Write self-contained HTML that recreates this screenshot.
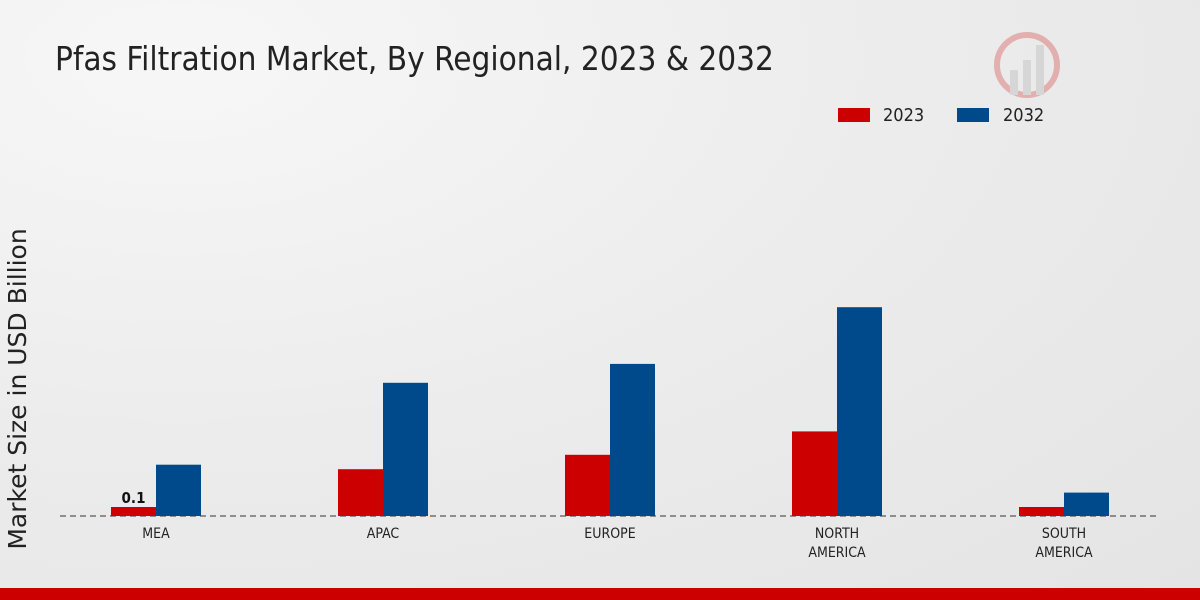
<!DOCTYPE html>
<html><head><meta charset="utf-8">
<style>
html,body{margin:0;padding:0;width:1200px;height:600px;overflow:hidden}
body{background:radial-gradient(ellipse at 15% 10%,#f7f7f7 0%,#ececec 50%,#e4e4e4 100%);font-family:"DejaVu Sans Condensed","DejaVu Sans","Liberation Sans",sans-serif}
</style></head>
<body>
<svg width="1200" height="600" xmlns="http://www.w3.org/2000/svg">
<text x="55" y="70" font-size="33" fill="#222" font-family="DejaVu Sans Condensed, DejaVu Sans, sans-serif">Pfas Filtration Market, By Regional, 2023 &amp; 2032</text>
<g opacity="0.25">
<circle cx="1027" cy="65" r="30" fill="none" stroke="#c00" stroke-width="6"/>
<rect x="1010" y="70" width="8" height="25" fill="#999"/><rect x="1023" y="60" width="8" height="35" fill="#999"/><rect x="1036" y="45" width="8" height="50" fill="#999"/>
</g>
<g>
<rect x="838" y="108" width="32" height="14" fill="#cc0000"/>
<text x="883" y="121" font-size="18" fill="#222">2023</text>
<rect x="957" y="108" width="32" height="14" fill="#004a8c"/>
<text x="1003" y="121" font-size="18" fill="#222">2032</text>
</g>
<text transform="translate(26,389) rotate(-90)" text-anchor="middle" font-size="25" fill="#222" font-family="DejaVu Sans, sans-serif">Market Size in USD Billion</text>
<line x1="60" y1="516" x2="1160" y2="516" stroke="#333" stroke-dasharray="6,4"/>
<g id="bars"></g>
<rect x="0" y="588" width="1200" height="12" fill="#cc0000"/>
</svg>
<script>
const categories=[["MEA"],["APAC"],["EUROPE"],["NORTH","AMERICA"],["SOUTH","AMERICA"]];
const values2023=[0.1,0.52,0.68,0.94,0.1];
const values2032=[0.57,1.48,1.69,2.32,0.26];
const baseY=516, pxPer=90, x0=156, step=227, bw=45;
const g=document.getElementById('bars');
const NS='http://www.w3.org/2000/svg';
function yOf(v){return baseY-v*pxPer;}
categories.forEach((c,i)=>{
  const cx=x0+i*step;
  [[values2023[i],'#cc0000',cx-bw,'2023'],[values2032[i],'#004a8c',cx,'2032']].forEach(([v,col,x,s])=>{
    const r=document.createElementNS(NS,'rect');
    r.setAttribute('x',x);r.setAttribute('y',yOf(v));r.setAttribute('width',bw);r.setAttribute('height',baseY-yOf(v));r.setAttribute('fill',col);
    
    
    g.appendChild(r);
  });
  c.forEach((line,j)=>{
    const t=document.createElementNS(NS,'text');
    t.setAttribute('x',cx);t.setAttribute('y',538+j*19);t.setAttribute('text-anchor','middle');t.setAttribute('font-size','14');t.setAttribute('fill','#222');
    t.textContent=line;
    
    
    g.appendChild(t);
  });
});
const lbl=document.createElementNS(NS,'text');
lbl.setAttribute('x',x0-bw/2);lbl.setAttribute('y',yOf(values2023[0])-4);lbl.setAttribute('text-anchor','middle');lbl.setAttribute('font-size','15');lbl.setAttribute('font-weight','bold');lbl.setAttribute('fill','#111');
lbl.textContent=values2023[0];


g.appendChild(lbl);
</script>
</body></html>
